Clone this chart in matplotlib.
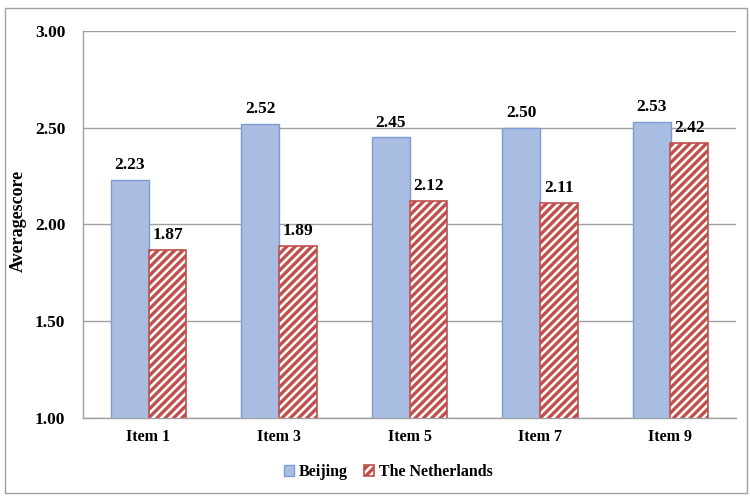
import matplotlib
matplotlib.use("Agg")
import matplotlib.pyplot as plt
import numpy as np
from matplotlib.patches import Rectangle

categories = ["Item 1", "Item 3", "Item 5", "Item 7", "Item 9"]
beijing = [2.23, 2.52, 2.45, 2.50, 2.53]
netherlands = [1.87, 1.89, 2.12, 2.11, 2.42]
series_names = ["Beijing", "The Netherlands"]
yticks = [1.00, 1.50, 2.00, 2.50, 3.00]

plt.rcParams["font.family"] = ["Liberation Serif", "DejaVu Serif"]
plt.rcParams["font.weight"] = "bold"
plt.rcParams["hatch.linewidth"] = 2.4

fig = plt.figure(figsize=(7.5, 4.96), dpi=100)
ax = fig.add_axes([0.111, 0.157, 0.870, 0.781])

x = np.arange(len(categories))
w = 0.29
blue_fill = "#a9bde2"
blue_edge = "#7d9bd3"
red = "#c0504d"
num_size = 12.5
txt_size = 11.5

b1 = ax.bar(x - w / 2, beijing, w, color=blue_fill, edgecolor=blue_edge,
            linewidth=1.0, zorder=3, label=series_names[0])
b2 = ax.bar(x + w / 2, netherlands, w, color="white", edgecolor=red, hatch="////",
            linewidth=1.2, zorder=3, label=series_names[1])

for bars, vals in ((b1, beijing), (b2, netherlands)):
    for rect, v in zip(bars, vals):
        ax.text(rect.get_x() + rect.get_width() / 2, v + 0.035, f"{v:.2f}",
                ha="center", va="bottom", fontsize=num_size, fontweight="bold", zorder=4)

ax.set_ylim(1.0, 3.0)
ax.set_xlim(-0.5, len(categories) - 0.5)
ax.set_yticks(yticks)
ax.set_yticklabels([f"{t:.2f}" for t in yticks], fontsize=num_size, fontweight="bold")
ax.set_xticks(x)
ax.set_xticklabels(categories, fontsize=txt_size, fontweight="bold")
ax.tick_params(axis="y", length=0, pad=13)
ax.tick_params(axis="x", length=0, pad=8)
ax.yaxis.grid(True, color="#a0a0a0", linewidth=1.0, zorder=0)
ax.set_axisbelow(True)
for s in ["top", "right"]:
    ax.spines[s].set_visible(False)
for s in ["left", "bottom"]:
    ax.spines[s].set_color("#a0a0a0")
    ax.spines[s].set_linewidth(1.0)

ax.set_ylabel("Averagescore", fontsize=13, fontweight="bold")
ax.yaxis.set_label_coords(-0.087, 0.51)

fig.legend(handles=[b1, b2], labels=series_names, loc="center",
           bbox_to_anchor=(0.518, 0.048), ncol=2, frameon=False,
           prop={"size": txt_size, "weight": "bold"}, handlelength=0.65,
           handleheight=0.65, handletextpad=0.3, columnspacing=1.0)

# outer frame around the whole figure
fig.patches.append(Rectangle((0.006, 0.006), 0.99, 0.978, transform=fig.transFigure,
                             fill=False, edgecolor="#a0a0a0", linewidth=1.0))

fig.savefig("out.png", dpi=100)
